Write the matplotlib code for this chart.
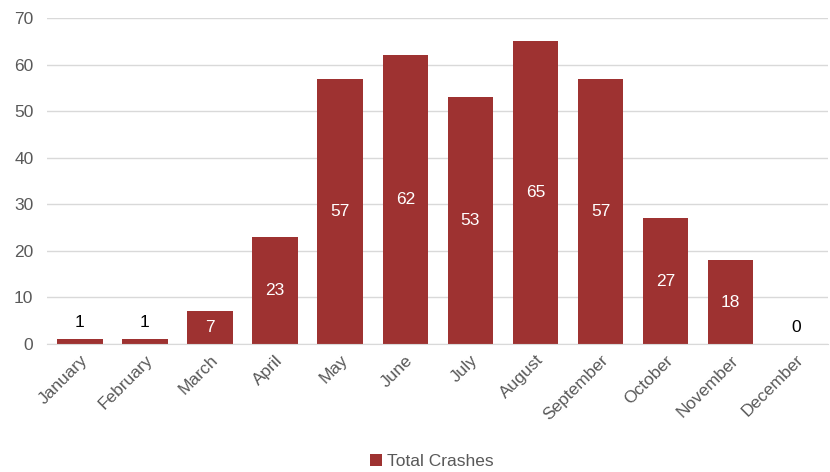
import matplotlib
matplotlib.use("Agg")
import matplotlib.pyplot as plt
from matplotlib.patches import Patch

months = ["January", "February", "March", "April", "May", "June", "July",
          "August", "September", "October", "November", "December"]
crashes = [1, 1, 7, 23, 57, 62, 53, 65, 57, 27, 18, 0]
yticks = [0, 10, 20, 30, 40, 50, 60, 70]

bar_color = "#9E3231"
text_gray = "#595959"
fs = 12.5

plt.rcParams['font.family'] = ['Liberation Sans', 'DejaVu Sans']
fig = plt.figure(figsize=(8.3, 4.72), dpi=100)
ax = fig.add_axes([0.057, 0.271, 0.941, 0.691])

x = list(range(len(months)))
bars = ax.bar(x, crashes, width=0.7, color=bar_color, zorder=3)

ax.set_xlim(-0.5, len(months) - 0.5)
ax.set_ylim(0, 70)
ax.set_yticks(yticks)
ax.set_yticklabels([str(t) for t in yticks], color=text_gray, fontsize=fs)
ax.set_xticks(x)
ax.set_xticklabels(months, rotation=45, ha="right", rotation_mode="anchor",
                   color=text_gray, fontsize=fs)
ax.tick_params(axis="both", length=0, pad=10)
ax.tick_params(axis="x", pad=6)
ax.grid(axis="y", color="#D9D9D9", linewidth=1, zorder=0)
for s in ["top", "right", "left"]:
    ax.spines[s].set_visible(False)
ax.spines["bottom"].set_color("#D9D9D9")
ax.spines["bottom"].set_zorder(4)

for xi, v in zip(x, crashes):
    if v >= 5:
        ax.text(xi, v / 2, str(v), ha="center", va="center", color="white",
                fontsize=fs, zorder=5)
    else:
        ax.text(xi, v + 2, str(v), ha="center", va="bottom", color="black",
                fontsize=fs, zorder=5)

handle = Patch(facecolor=bar_color, edgecolor="none")
fig.legend([handle], ["Total Crashes"], loc="center", bbox_to_anchor=(0.52, 0.022),
           frameon=False, fontsize=fs, labelcolor=text_gray,
           handlelength=0.7, handleheight=0.7, handletextpad=0.3)

fig.savefig("out.png", dpi=100)
